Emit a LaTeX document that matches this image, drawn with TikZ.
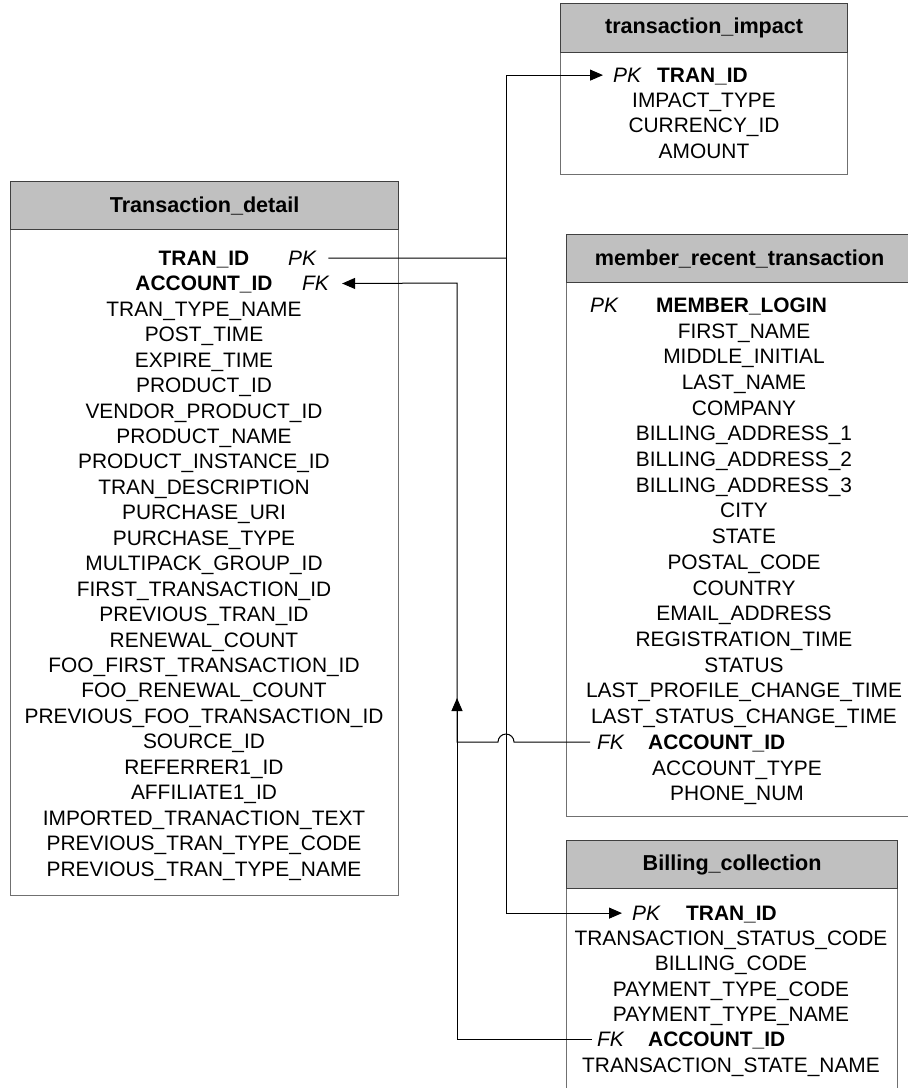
\documentclass[tikz,border=0pt]{standalone}
\usepackage{fontspec}
\setmainfont{Liberation Sans}
\usetikzlibrary{arrows.meta}
\definecolor{hdrgray}{HTML}{C0C0C0}
\definecolor{edgegray}{HTML}{707070}
\begin{document}
\fontsize{20.9}{24}\selectfont
\begin{tikzpicture}[x=1pt,y=-1pt,
  tablebox/.style={draw=edgegray, line width=1.4pt, fill=white, anchor=north west, inner sep=0},
  headbox/.style={draw=black!75, line width=1.2pt, fill=hdrgray, anchor=north west, inner sep=0,
    font=\fontsize{21.6}{24}\selectfont\bfseries},
  field/.style={inner sep=0, anchor=base},
  keyfield/.style={inner sep=0, anchor=base west, font=\itshape},
  boldfield/.style={inner sep=0, anchor=base, font=\bfseries},
  link/.style={draw=black, line width=1pt},
  tip/.style={-{Triangle[length=13pt,width=11pt]}}]
\useasboundingbox (0,0) rectangle (908,1088);

% ---------- Transaction_detail ----------
\node[tablebox, minimum width=388pt, minimum height=714pt] (td) at (10,181) {};
\node[headbox, minimum width=388pt, minimum height=48pt] (td-head) at (10,181) {Transaction\_detail};
\node[boldfield] (td-pkname) at (204,265.3) {TRAN\_ID};
\node[keyfield] (td-pk) at (288,265.3) {PK};
\node[boldfield] (td-fkname) at (204,290.7) {ACCOUNT\_ID};
\node[keyfield] (td-fk) at (302,290.7) {FK};
\foreach \txt [count=\i from 2] in {TRAN\_TYPE\_NAME, POST\_TIME, EXPIRE\_TIME, PRODUCT\_ID,
    VENDOR\_PRODUCT\_ID, PRODUCT\_NAME, PRODUCT\_INSTANCE\_ID, TRAN\_DESCRIPTION,
    PURCHASE\_URI, PURCHASE\_TYPE, MULTIPACK\_GROUP\_ID, FIRST\_TRANSACTION\_ID,
    PREVIOUS\_TRAN\_ID, RENEWAL\_COUNT, FOO\_FIRST\_TRANSACTION\_ID, FOO\_RENEWAL\_COUNT,
    PREVIOUS\_FOO\_TRANSACTION\_ID, SOURCE\_ID, REFERRER1\_ID, AFFILIATE1\_ID,
    IMPORTED\_TRANACTION\_TEXT, PREVIOUS\_TRAN\_TYPE\_CODE, PREVIOUS\_TRAN\_TYPE\_NAME}
  \node[field] (td-r\i) at (204, 265.3+\i*25.45) {\txt};

% ---------- transaction_impact ----------
\node[tablebox, minimum width=287pt, minimum height=171pt] (ti) at (560,3) {};
\node[headbox, minimum width=287pt, minimum height=49pt] (ti-head) at (560,3) {transaction\_impact};
\node[keyfield] (ti-pk) at (613,82.3) {PK};
\node[inner sep=0, anchor=base west, font=\bfseries] (ti-pkname) at (657,82.3) {TRAN\_ID};
\foreach \txt [count=\i] in {IMPACT\_TYPE, CURRENCY\_ID, AMOUNT}
  \node[field] (ti-r\i) at (704, 82.3+\i*25.3) {\txt};

% ---------- member_recent_transaction ----------
\node[tablebox, minimum width=346pt, minimum height=582pt] (mr) at (566,234) {};
\node[headbox, minimum width=346pt, minimum height=48pt] (mr-head) at (566,234) {member\_recent\_transaction};
\node[keyfield] (mr-pk) at (590,312.3) {PK};
\node[inner sep=0, anchor=base west, font=\bfseries] (mr-pkname) at (656,312.3) {MEMBER\_LOGIN};
\foreach \txt [count=\i] in {FIRST\_NAME, MIDDLE\_INITIAL, LAST\_NAME, COMPANY,
    BILLING\_ADDRESS\_1, BILLING\_ADDRESS\_2, BILLING\_ADDRESS\_3, CITY, STATE,
    POSTAL\_CODE, COUNTRY, EMAIL\_ADDRESS, REGISTRATION\_TIME, STATUS,
    LAST\_PROFILE\_CHANGE\_TIME, LAST\_STATUS\_CHANGE\_TIME}
  \node[field] (mr-r\i) at (744, 312.3+\i*25.7) {\txt};
\node[keyfield] (mr-fk) at (597,749.3) {FK};
\node[inner sep=0, anchor=base west, font=\bfseries] (mr-fkname) at (648,749.3) {ACCOUNT\_ID};
\node[field] (mr-r18) at (737,775) {ACCOUNT\_TYPE};
\node[field] (mr-r19) at (737,800.7) {PHONE\_NUM};

% ---------- Billing_collection ----------
\node[tablebox, minimum width=331pt, minimum height=252pt] (bc) at (566,840) {};
\node[headbox, minimum width=331pt, minimum height=48pt] (bc-head) at (566,840) {Billing\_collection};
\node[keyfield] (bc-pk) at (632,920.3) {PK};
\node[inner sep=0, anchor=base west, font=\bfseries] (bc-pkname) at (686,920.3) {TRAN\_ID};
\foreach \txt [count=\i] in {TRANSACTION\_STATUS\_CODE, BILLING\_CODE, PAYMENT\_TYPE\_CODE, PAYMENT\_TYPE\_NAME}
  \node[field] (bc-r\i) at (731, 920.3+\i*25.3) {\txt};
\node[keyfield] (bc-fk) at (597,1046.8) {FK};
\node[inner sep=0, anchor=base west, font=\bfseries] (bc-fkname) at (648,1046.8) {ACCOUNT\_ID};
\node[field] (bc-r6) at (731,1072.1) {TRANSACTION\_STATE\_NAME};

% ---------- relationship lines ----------
\coordinate (pkbus) at (506,258);
\coordinate (fkbus) at (457,283);
\coordinate (hop) at (506,742);
\coordinate (uptip) at (457,698);

% TRAN_ID key shared with transaction_impact and Billing_collection
\draw[link] ([xshift=12pt]td-pk.east) -- (pkbus);
\draw[link,tip] (pkbus) |- ([xshift=-10pt]ti-pk.west);
\draw[link,tip] (pkbus) |- ([xshift=-10pt]bc-pk.west);

% ACCOUNT_ID from member_recent_transaction, hopping over the TRAN_ID line
\draw[link,tip] ([xshift=-7pt]mr-fk.west) -- ([xshift=8pt]hop)
  arc[start angle=0, end angle=-180, radius=8] -- (fkbus |- hop) -- (fkbus)
  -- ([xshift=13pt]td-fk.east);

% ACCOUNT_ID from Billing_collection
\draw[link,tip] ([xshift=-5pt]bc-fk.west) -- (fkbus |- bc-fk.west) -- (uptip);
\end{tikzpicture}
\end{document}
